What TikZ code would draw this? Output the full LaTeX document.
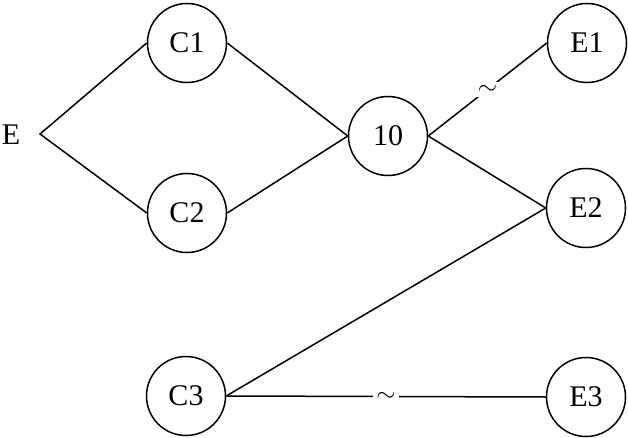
\documentclass[tikz,border=0pt]{standalone}
\usepackage{fontspec}
\setmainfont{Liberation Serif}
\begin{document}
\begin{tikzpicture}[x=1pt,y=-1pt,
  vert/.style={circle,draw,line width=1.5pt,minimum size=79pt,inner sep=0pt,font=\fontsize{30}{32}\selectfont},
  edge/.style={line width=1.5pt},
  tlab/.style={fill=white,inner sep=3pt,font=\fontsize{28}{30}\selectfont}]
\useasboundingbox (0,0) rectangle (628,438);
\node[font=\fontsize{30}{32}\selectfont,inner sep=0pt] (E) at (11,135) {E};
\coordinate (Ev) at (40,134);
\node[vert] (C1) at (187,43) {C1};
\node[vert] (C2) at (187,213) {C2};
\node[vert] (N10) at (388,136) {10};
\node[vert] (E1) at (587,43) {E1};
\node[vert] (E2) at (586,208) {E2};
\node[vert] (C3) at (186,396) {C3};
\node[vert] (E3) at (586,397) {E3};
\draw[edge] (C1.west) -- (Ev) -- (C2.west);
\draw[edge] (C1.east) -- (N10.west);
\draw[edge] (C2.east) -- (N10.west);
\draw[edge] (N10.east) -- (E2.west);
\draw[edge] (N10.east) -- node[tlab]{$\sim$} (E1.west);
\draw[edge] (C3.east) -- (E2.west);
\draw[edge] (C3.east) -- node[tlab]{$\sim$} (E3.west);
\end{tikzpicture}
\end{document}
